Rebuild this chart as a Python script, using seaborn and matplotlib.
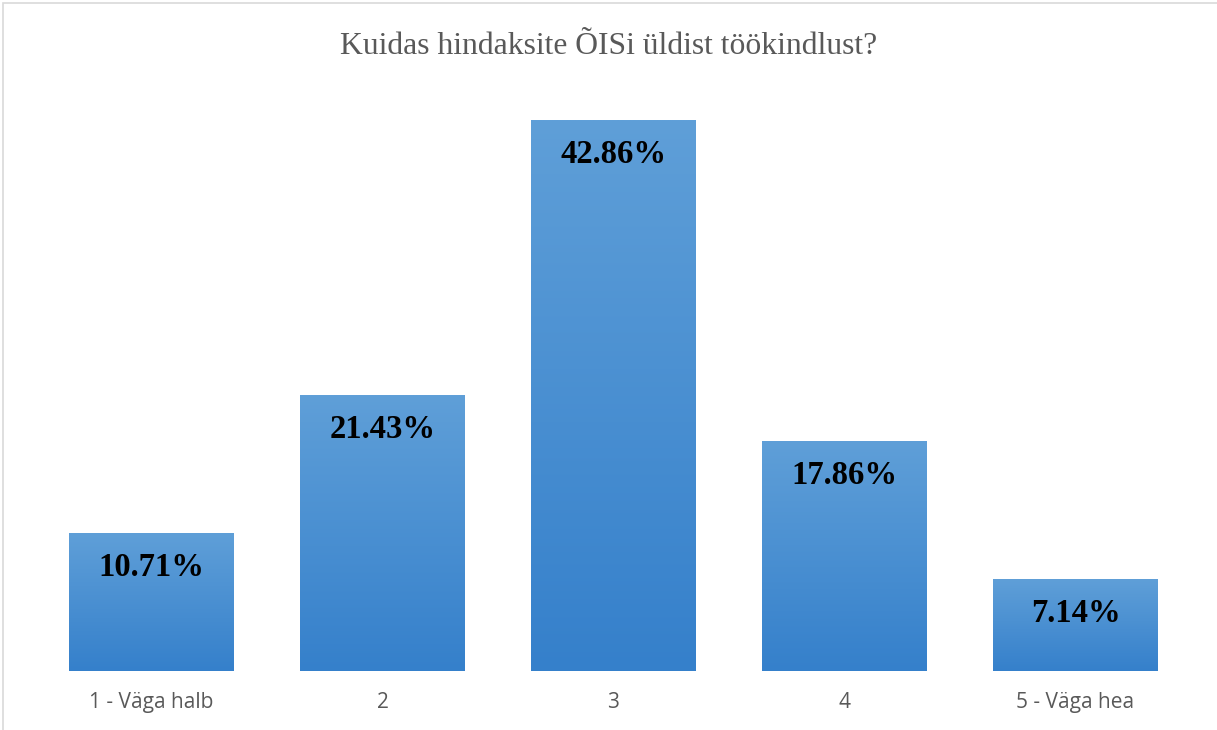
import numpy as np
import seaborn as sns
import matplotlib.pyplot as plt
from matplotlib.colors import LinearSegmentedColormap
from matplotlib.patches import Rectangle

# andmed
kategooriad = ['1 - Väga halb', '2', '3', '4', '5 - Väga hea']
protsendid = [10.71, 21.43, 42.86, 17.86, 7.14]
sildid = ['10.71%', '21.43%', '42.86%', '17.86%', '7.14%']

sns.set_style('white')

fig = plt.figure(figsize=(12.17, 7.30), dpi=100)
ax = fig.add_axes([36 / 1217, 59 / 730, 1155 / 1217, 577.5 / 730])

sns.barplot(x=kategooriad, y=protsendid, color='#4a8fd3', width=0.714, ax=ax,
            saturation=1)
ax.set_ylim(0, 45)
ax.set_xlim(-0.5, 4.5)

# gradient ribade peale
gradient = LinearSegmentedColormap.from_list('g', ['#3580cb', '#5f9fd8'])
grad = np.linspace(0, 1, 256).reshape(-1, 1)
for bar in ax.patches:
    x0, w, h = bar.get_x(), bar.get_width(), bar.get_height()
    bar.set_alpha(0)
    ax.imshow(grad, cmap=gradient, aspect='auto', origin='lower',
              extent=[x0, x0 + w, 0, h], zorder=2)

for i, (v, s) in enumerate(zip(protsendid, sildid)):
    ax.text(i, v - 2.65, s, ha='center', va='center', fontsize=23.5,
            fontweight='bold', family='Liberation Serif', color='black', zorder=3)

ax.set_xlim(-0.5, 4.5)
ax.set_ylim(0, 45)
ax.set_yticks([])
ax.tick_params(axis='x', length=0, pad=15, labelsize=15, labelcolor='#595959')
for lab in ax.get_xticklabels():
    lab.set_family('Open Sans')
for sp in ax.spines.values():
    sp.set_visible(False)

fig.text(0.5, 1 - 46 / 730, 'Kuidas hindaksite ÕISi üldist töökindlust?',
         ha='center', va='center', fontsize=22.8, family='Liberation Serif',
         color='#595959')

# raam
fig.patches.append(Rectangle((3 / 1217, -0.1), 1.2, (730 - 3) / 730 + 0.1,
                             transform=fig.transFigure, fill=False,
                             edgecolor='#d9d9d9', linewidth=1.2))

plt.savefig('out.png', dpi=100)
